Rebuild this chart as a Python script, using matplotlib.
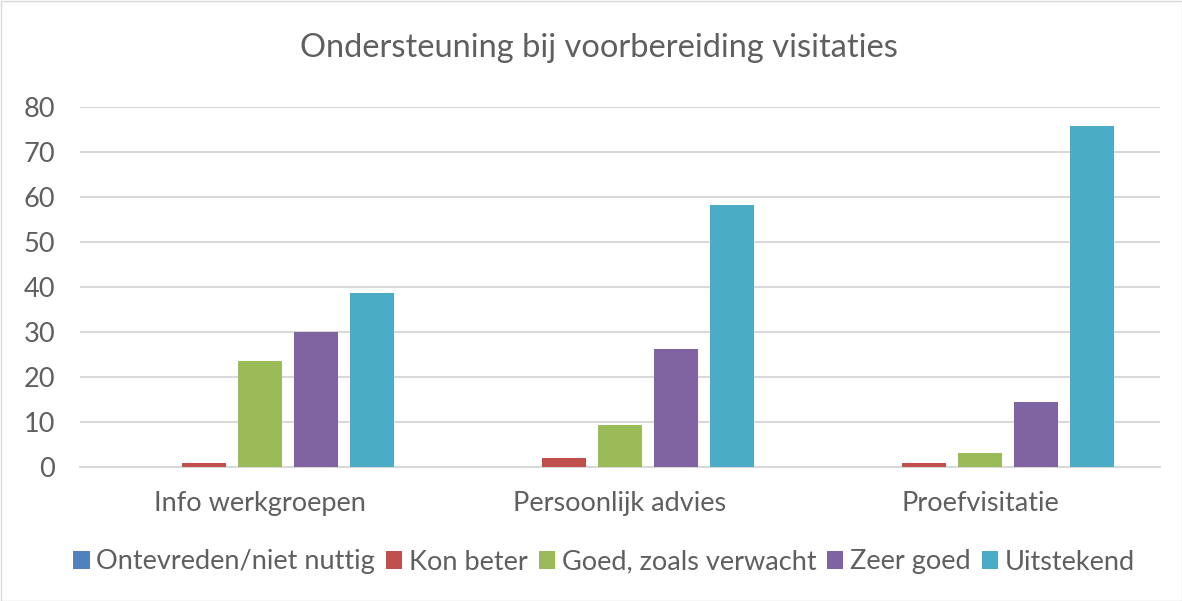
import matplotlib
matplotlib.use("Agg")
import matplotlib.pyplot as plt
import numpy as np
from matplotlib.patches import Rectangle

categories = ["Info werkgroepen", "Persoonlijk advies", "Proefvisitatie"]
series_names = ["Ontevreden/niet nuttig", "Kon beter", "Goed, zoals verwacht", "Zeer goed", "Uitstekend"]
ontevreden = [0, 0, 0]
kon_beter = [1, 2, 1]
goed = [23.6, 9.3, 3.1]
zeer_goed = [30.0, 26.2, 14.4]
uitstekend = [38.7, 58.2, 75.8]
yticks = [0, 10, 20, 30, 40, 50, 60, 70, 80]

colors = ["#4F81BD", "#C0504D", "#9BBB59", "#8064A2", "#4BACC6"]
series = [ontevreden, kon_beter, goed, zeer_goed, uitstekend]

plt.rcParams['font.family'] = ['Lato', 'DejaVu Sans']
text_color = "#5F5F5F"

fig = plt.figure(figsize=(11.82, 6.01), dpi=100)
ax = fig.add_axes([80/1182, 134/601, 1080/1182, 360/601])

x = np.arange(len(categories))
step = 0.155
width = 0.122
for i, (name, vals, c) in enumerate(zip(series_names, series, colors)):
    ax.bar(x + (i - 2) * step, vals, width=width, color=c, label=name, zorder=3)

ax.set_xlim(-0.5, 2.5)
ax.set_ylim(0, 80)
ax.set_yticks(yticks)
ax.yaxis.grid(True, color="#D9D9D9", linewidth=1.5, zorder=0)
ax.set_axisbelow(True)
for s in ["top", "right", "left"]:
    ax.spines[s].set_visible(False)
ax.spines["bottom"].set_color("#D9D9D9")
ax.spines["bottom"].set_linewidth(1.5)
ax.tick_params(axis="both", length=0, labelsize=19.5, colors=text_color)
ax.tick_params(axis="y", pad=18)
ax.tick_params(axis="x", pad=17)
ax.set_xticks(x)
ax.set_xticklabels(categories)

fig.text(599/1182, 1 - 48/601, "Ondersteuning bij voorbereiding visitaties", ha="center", va="center",
         fontsize=23.5, color=text_color)

leg = fig.legend(loc="center", bbox_to_anchor=(604/1182, 1 - 562/601), ncol=5, frameon=False,
                 prop={'size': 19.5}, handlelength=0.6, handleheight=0.6,
                 handletextpad=0.25, columnspacing=0.4, labelcolor=text_color)

fig.patches.append(Rectangle((0.5/1182, 0.5/601), 1 - 1/1182, 1 - 1/601, transform=fig.transFigure,
                             fill=False, edgecolor="#D9D9D9", linewidth=1))

fig.savefig("out.png", dpi=100)
